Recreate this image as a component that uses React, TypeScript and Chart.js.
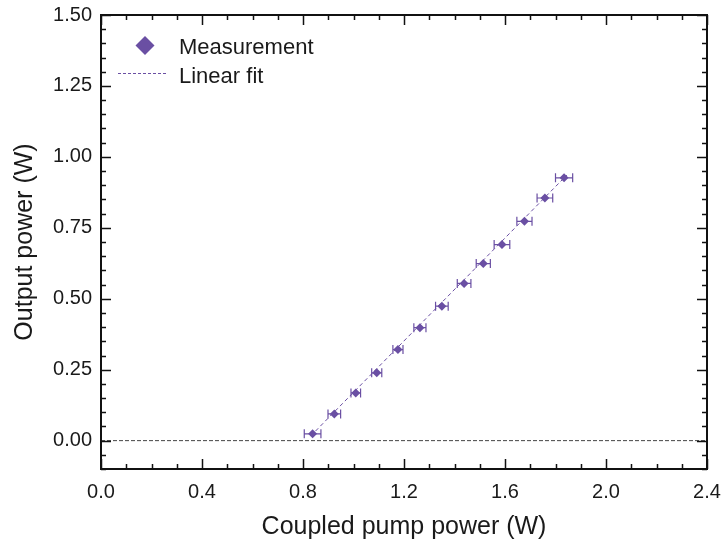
import React, { useEffect, useRef } from "react";
import { Chart, registerables } from "chart.js";

Chart.register(...registerables);

// ---- data ----
const pumpPower = [0.838, 0.924, 1.009, 1.092, 1.176, 1.263, 1.35, 1.438, 1.514, 1.588, 1.677, 1.758, 1.834];
const outputPower = [0.024, 0.094, 0.168, 0.239, 0.321, 0.398, 0.474, 0.554, 0.624, 0.691, 0.773, 0.855, 0.926];
const pumpError = [0.033, 0.025, 0.019, 0.02, 0.02, 0.024, 0.025, 0.027, 0.028, 0.031, 0.03, 0.031, 0.034];
const fitX = [0.83, 1.845];
const fitY = [0.016, 0.936];
const zeroX = [0, 2.4];
const zeroY = [0, 0];
const xTicks = [0, 0.4, 0.8, 1.2, 1.6, 2.0, 2.4];
const yTicks = [0, 0.25, 0.5, 0.75, 1.0, 1.25, 1.5];
const xMinorStep = 0.1;
const yMinorStep = 0.05;
const xLimits = [0, 2.4];
const yLimits = [-0.1, 1.5];
const seriesLabels = ["Measurement", "Linear fit", "Zero"];

const PURPLE = "#6a4fa3";
const TEXT = "#1a1a1a";
const FONT = "'Liberation Sans', Arial, Helvetica, sans-serif";

const decorPlugin = {
  id: "decor",
  beforeDatasetsDraw(chart: any) {
    const ctx = chart.ctx;
    const xs = chart.scales.x;
    const ys = chart.scales.y;
    ctx.save();
    ctx.strokeStyle = PURPLE;
    ctx.lineWidth = 1.2;
    pumpPower.forEach((x, i) => {
      const y = ys.getPixelForValue(outputPower[i]);
      const x1 = xs.getPixelForValue(x - pumpError[i]);
      const x2 = xs.getPixelForValue(x + pumpError[i]);
      ctx.beginPath();
      ctx.moveTo(x1, y);
      ctx.lineTo(x2, y);
      ctx.moveTo(x1, y - 4.5);
      ctx.lineTo(x1, y + 4.5);
      ctx.moveTo(x2, y - 4.5);
      ctx.lineTo(x2, y + 4.5);
      ctx.stroke();
    });
    ctx.restore();
  },
  afterDraw(chart: any) {
    const ctx = chart.ctx;
    const { left, right, top, bottom } = chart.chartArea;
    const xs = chart.scales.x;
    const ys = chart.scales.y;
    ctx.save();
    ctx.strokeStyle = "#111";
    ctx.lineWidth = 1.5;
    const nx = Math.round((xLimits[1] - xLimits[0]) / xMinorStep);
    for (let i = 0; i <= nx; i++) {
      const v = xLimits[0] + i * xMinorStep;
      const major = xTicks.some((t) => Math.abs(t - v) < 1e-6);
      const len = major ? 10 : 5;
      const px = Math.round(xs.getPixelForValue(v)) + 0.5;
      ctx.beginPath();
      ctx.moveTo(px, bottom);
      ctx.lineTo(px, bottom - len);
      ctx.moveTo(px, top);
      ctx.lineTo(px, top + len);
      ctx.stroke();
    }
    const ny = Math.round((yLimits[1] - yLimits[0]) / yMinorStep);
    for (let i = 0; i <= ny; i++) {
      const v = yLimits[0] + i * yMinorStep;
      const major = yTicks.some((t) => Math.abs(t - v) < 1e-6);
      const len = major ? 10 : 5;
      const py = Math.round(ys.getPixelForValue(v)) + 0.5;
      ctx.beginPath();
      ctx.moveTo(left, py);
      ctx.lineTo(left + len, py);
      ctx.moveTo(right, py);
      ctx.lineTo(right - len, py);
      ctx.stroke();
    }
    ctx.lineWidth = 2;
    ctx.strokeRect(left, top, right - left, bottom - top);

    // legend
    const lx = 145;
    ctx.fillStyle = PURPLE;
    ctx.beginPath();
    ctx.moveTo(lx - 9.5, 45.5);
    ctx.lineTo(lx, 36);
    ctx.lineTo(lx + 9.5, 45.5);
    ctx.lineTo(lx, 55);
    ctx.closePath();
    ctx.fill();
    ctx.strokeStyle = PURPLE;
    ctx.lineWidth = 1;
    ctx.setLineDash([3, 2]);
    ctx.beginPath();
    ctx.moveTo(118, 73.5);
    ctx.lineTo(168, 73.5);
    ctx.stroke();
    ctx.setLineDash([]);
    ctx.fillStyle = TEXT;
    ctx.font = `22px ${FONT}`;
    ctx.textBaseline = "alphabetic";
    ctx.textAlign = "left";
    ctx.fillText(seriesLabels[0], 179, 53.5);
    ctx.fillText(seriesLabels[1], 179, 82.5);
    ctx.restore();
  },
};

export default function App() {
  const ref = useRef<HTMLCanvasElement | null>(null);
  useEffect(() => {
    if (!ref.current) return;
    const chart = new Chart(ref.current, {
      type: "scatter",
      data: {
        datasets: [
          {
            label: seriesLabels[0],
            data: pumpPower.map((x, i) => ({ x, y: outputPower[i] })),
            pointStyle: "rectRot",
            pointRadius: 4.5,
            pointBackgroundColor: PURPLE,
            pointBorderColor: PURPLE,
            pointBorderWidth: 0,
            showLine: false,
            order: 0,
          },
          {
            label: seriesLabels[1],
            data: fitX.map((x, i) => ({ x, y: fitY[i] })),
            showLine: true,
            borderColor: PURPLE,
            borderWidth: 1,
            borderDash: [4, 3],
            pointRadius: 0,
            order: 1,
          },
          {
            label: seriesLabels[2],
            data: zeroX.map((x, i) => ({ x, y: zeroY[i] })),
            showLine: true,
            borderColor: "#444",
            borderWidth: 1,
            borderDash: [4, 2],
            pointRadius: 0,
            order: 2,
          },
        ],
      },
      options: {
        animation: false,
        responsive: false,
        events: [],
        layout: { padding: { top: 15, right: 16, left: 0, bottom: 0 } },
        plugins: { legend: { display: false }, tooltip: { enabled: false } },
        scales: {
          x: {
            type: "linear",
            min: xLimits[0],
            max: xLimits[1],
            afterBuildTicks: (axis: any) => {
              axis.ticks = xTicks.map((v) => ({ value: v }));
            },
            afterFit: (axis: any) => {
              axis.height = 77;
              axis.paddingLeft = 0;
              axis.paddingRight = 0;
            },
            grid: { display: false, drawTicks: false },
            border: { display: false },
            ticks: {
              color: TEXT,
              font: { family: FONT, size: 20 },
              padding: 11,
              maxRotation: 0,
              callback: (v: any) => Number(v).toFixed(1),
            },
            title: {
              display: true,
              text: "Coupled pump power (W)",
              color: TEXT,
              font: { family: FONT, size: 25 },
              padding: { top: 0, bottom: 4 },
            },
          },
          y: {
            type: "linear",
            min: yLimits[0],
            max: yLimits[1],
            afterBuildTicks: (axis: any) => {
              axis.ticks = yTicks.map((v) => ({ value: v }));
            },
            afterFit: (axis: any) => {
              axis.width = 101;
              axis.paddingTop = 0;
              axis.paddingBottom = 0;
            },
            grid: { display: false, drawTicks: false },
            border: { display: false },
            ticks: {
              color: TEXT,
              font: { family: FONT, size: 20 },
              padding: 9,
              callback: (v: any) => Number(v).toFixed(2),
            },
            title: {
              display: true,
              text: "Output power (W)",
              color: TEXT,
              font: { family: FONT, size: 25 },
              padding: { top: 10, bottom: 0 },
            },
          },
        },
      },
      plugins: [decorPlugin],
    } as any);
    return () => chart.destroy();
  }, []);
  return (
    <div style={{ position: "fixed", left: 0, top: 0, width: 723, height: 546, background: "#fff" }}>
      <canvas ref={ref} width={723} height={546} style={{ display: "block" }} />
    </div>
  );
}
